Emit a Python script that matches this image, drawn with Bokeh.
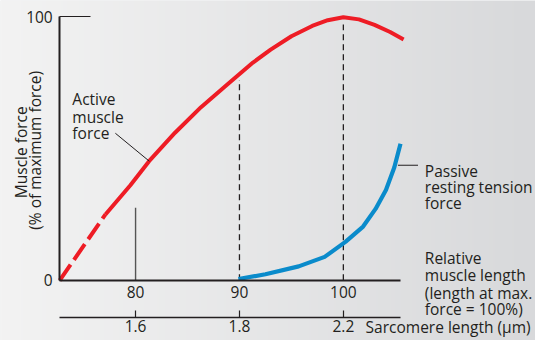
import math
import numpy as np
from bokeh.plotting import figure
from bokeh.models import LinearAxis, FixedTicker, Range1d, Label
from bokeh.embed import file_html
from bokeh.resources import INLINE

# ---------------- data ----------------
# relative muscle length (%) vs. muscle force (% of max)
active_dash_x = [72.7, 77.1]
active_dash_y = [0.0, 25.0]

active_x = [77.1, 79.5, 81.3, 83.8, 86.3, 88.8, 91.3, 93.0, 95.0, 97.0, 98.5, 100.0, 101.5, 103.0, 104.5, 105.8]
active_y = [25.0, 36.1, 45.2, 56.0, 65.7, 74.2, 82.6, 87.5, 92.6, 96.5, 98.7, 99.8, 99.0, 96.9, 94.2, 91.4]

passive_x = [89.9, 92.5, 95.7, 98.2, 100.2, 101.9, 103.1, 104.1, 104.9, 105.5]
passive_y = [0.5, 2.3, 5.3, 8.9, 14.6, 20.4, 27.1, 34.3, 42.8, 51.8]

marker_solid_x = [80]
marker_solid_top = [27.5]
marker_dash_x = [90, 100]
marker_dash_top = [76.0, 97.1]

rel_ticks = [80, 90, 100]
sarcomere_labels = ["1.6", "1.8", "2.2"]
force_ticks = [0, 100]

# ---------------- styling ----------------
FONT = "Open Sans"
FS = "15.5px"
TXT = "#231f20"
RED = "#ee1c25"
BLUE = "#0a8bcb"
BG = "#e6e7e9"

# reference-pixel -> data helpers (used for placing annotations / ranges)
def dx(px):
    return 72.7 + (px - 61) / 10.7

def dy(py):
    return (293 - py) / 2.76

XL, XR = dx(0), dx(551)
YB, YT = dy(356), dy(0)

p = figure(width=535, height=340, output_backend="svg", toolbar_location=None,
           x_range=Range1d(XL, XR), y_range=Range1d(YB, YT),
           x_axis_type=None, y_axis_type=None,
           min_border_left=0, min_border_right=0, min_border_top=0, min_border_bottom=0)
p.background_fill_color = BG
p.border_fill_color = BG
p.outline_line_color = None
p.xgrid.visible = False
p.ygrid.visible = False

# soft left-to-right background shading
ncol = 256
t = np.linspace(0.0, 1.0, ncol)
img = np.zeros((1, ncol), dtype=np.uint32)
view = img.view(dtype=np.uint8).reshape((1, ncol, 4))
view[0, :, 0] = (243 - 27 * t).astype(np.uint8)
view[0, :, 1] = (243 - 26 * t).astype(np.uint8)
view[0, :, 2] = (243 - 24 * t).astype(np.uint8)
view[0, :, 3] = 255
p.image_rgba(image=[img], x=XL, y=YB, dw=XR - XL, dh=YT - YB, level="image")

def style_axis(ax):
    ax.axis_line_color = TXT
    ax.major_tick_line_color = TXT
    ax.minor_tick_line_color = None
    ax.major_label_text_font = FONT
    ax.major_label_text_font_size = FS
    ax.major_label_text_color = TXT

# y axis
yax = LinearAxis(ticker=FixedTicker(ticks=force_ticks), bounds=(0, 100), fixed_location=72.7)
style_axis(yax)
yax.axis_line_width = 2
yax.major_tick_in = 31
yax.major_tick_out = 0
yax.major_tick_line_width = 1.2
yax.major_label_standoff = 7
p.add_layout(yax, "left")

# relative length axis
xax = LinearAxis(ticker=FixedTicker(ticks=rel_ticks), bounds=(72.7, 105.5), fixed_location=0)
style_axis(xax)
xax.axis_line_width = 2
xax.major_tick_in = 0
xax.major_tick_out = 0
xax.major_label_standoff = 6
p.add_layout(xax, "below")

# sarcomere length axis
sax = LinearAxis(ticker=FixedTicker(ticks=rel_ticks), bounds=(72.7, 105.5), fixed_location=dy(331.7),
                 major_label_overrides=dict(zip(rel_ticks, sarcomere_labels)))
style_axis(sax)
sax.axis_line_width = 1.5
sax.major_tick_in = 7
sax.major_tick_out = 0
sax.major_tick_line_width = 1.2
sax.major_label_standoff = 3
p.add_layout(sax, "below")

# reference lines
p.segment(x0=marker_solid_x, y0=[0] * len(marker_solid_x), x1=marker_solid_x, y1=marker_solid_top,
          line_color="#555555", line_width=1.4)
p.segment(x0=marker_dash_x, y0=[0] * len(marker_dash_x), x1=marker_dash_x, y1=marker_dash_top,
          line_color=TXT, line_width=1.3, line_dash="6 4")

# curves
p.line(active_dash_x, active_dash_y, line_color=RED, line_width=4, line_dash="19 6")
p.line(active_x, active_y, line_color=RED, line_width=4, line_join="round")
p.line(passive_x, passive_y, line_color=BLUE, line_width=4.2, line_join="round")

# leader lines
p.segment(x0=[dx(118.3)], y0=[dy(139)], x1=[dx(153.3)], y1=[dy(168.3)], line_color=TXT, line_width=1)
p.segment(x0=[dx(409.3)], y0=[dy(172.5)], x1=[dx(430)], y1=[dy(172.5)], line_color=TXT, line_width=1)

def txt(s, px, py, align="left", angle=0.0):
    p.add_layout(Label(x=dx(px), y=dy(py), text=s, text_font=FONT, text_font_size=FS,
                       text_color=TXT, text_align=align, text_baseline="alphabetic", angle=angle))

for s, by in [("Active", 103.3), ("muscle", 121.7), ("force", 139.0)]:
    txt(s, 74, by)
for s, by in [("Passive", 178.3), ("resting tension", 195.7), ("force", 212.3)]:
    txt(s, 437, by)
for s, by in [("Relative", 269.3), ("muscle length", 287.3), ("(length at max.", 306.0), ("force = 100%)", 323.3)]:
    txt(s, 437, by)
txt("Sarcomere length (\u00b5m)", 376, 342)

# vertical axis title, anchored at the bottom end of each line, reading upwards
txt("Muscle force", 21, 207, angle=math.pi / 2)
txt("(% of maximum force)", 36, 240, angle=math.pi / 2)

open("out.html", "w").write(file_html(p, INLINE))
